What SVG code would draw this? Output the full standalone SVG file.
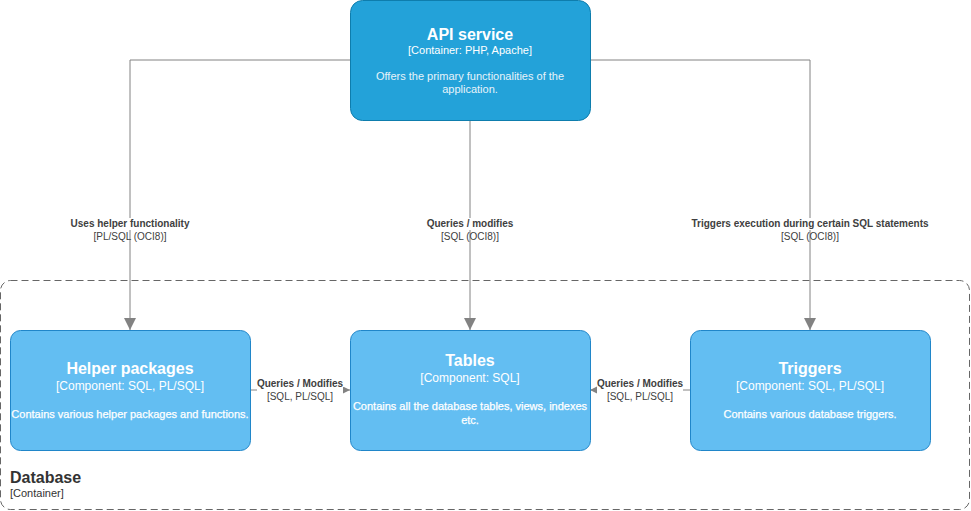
<svg xmlns="http://www.w3.org/2000/svg" width="971" height="511" viewBox="0 0 971 511">
<defs>
<style>
.container{fill:#23A2D9;stroke:#0E7DAD;stroke-width:1}
.comp{fill:#63BEF2;stroke:#2086C9;stroke-width:1}
.title{font-family:"Liberation Sans",Arial,sans-serif;font-size:16px;font-weight:bold;fill:#ffffff;text-anchor:middle}
.sub{font-family:"Liberation Sans",Arial,sans-serif;font-size:12px;fill:#ffffff;text-anchor:middle}
.desc{font-family:"Liberation Sans",Arial,sans-serif;font-size:11px;fill:#ffffff;stroke:#ffffff;stroke-width:0.25;text-anchor:middle}
.desc2{font-family:"Liberation Sans",Arial,sans-serif;font-size:11px;fill:#E6F3FA;text-anchor:middle}
.edge{fill:none;stroke:#828282;stroke-width:1}
.lbl{font-family:"Liberation Sans",Arial,sans-serif;font-size:10px;font-weight:bold;fill:#404040;text-anchor:middle}
.lbl2{font-family:"Liberation Sans",Arial,sans-serif;font-size:10px;fill:#404040;text-anchor:middle}
.lblbg{fill:#ffffff}
</style>
<marker id="arrowBig" markerWidth="12" markerHeight="12" refX="12" refY="6" orient="auto" markerUnits="userSpaceOnUse">
<path d="M0,0 L12,6 L0,12 Z" fill="#828282"/>
</marker>
<marker id="arrowSmall" markerWidth="8" markerHeight="8" refX="7" refY="3.5" orient="auto" markerUnits="userSpaceOnUse">
<path d="M0,0 L7,3.5 L0,7 Z" fill="#828282"/>
</marker>
</defs>
<rect width="971" height="511" fill="#ffffff"/>

<g id="database">
<rect x="0.5" y="280.5" width="969" height="229" rx="10" ry="10" fill="none" stroke="#666666" stroke-width="1" stroke-dasharray="7 4"/>
<text x="10" y="483" font-family="'Liberation Sans',Arial,sans-serif" font-size="16" font-weight="bold" fill="#333333">Database</text>
<text x="10" y="497" font-family="'Liberation Sans',Arial,sans-serif" font-size="11" fill="#333333">[Container]</text>
</g>

<g id="connectors">
<path class="edge" d="M350,60 L130,60 L130,330" marker-end="url(#arrowBig)"/>
<path class="edge" d="M470,120 L470,330" marker-end="url(#arrowBig)"/>
<path class="edge" d="M590,60 L810,60 L810,330" marker-end="url(#arrowBig)"/>
<path class="edge" d="M250,390 L350,390" marker-end="url(#arrowSmall)"/>
<path class="edge" d="M690,390 L590,390" marker-end="url(#arrowSmall)"/>
<rect class="lblbg" x="71" y="218" width="118" height="12"/>
<text class="lbl" x="130" y="227">Uses helper functionality</text>
<text class="lbl2" x="130" y="240">[PL/SQL (OCI8)]</text>
<rect class="lblbg" x="427" y="218" width="86" height="12"/>
<text class="lbl" x="470" y="227">Queries / modifies</text>
<text class="lbl2" x="470" y="240">[SQL (OCI8)]</text>
<rect class="lblbg" x="692" y="218" width="236" height="12"/>
<text class="lbl" x="810" y="227">Triggers execution during certain SQL statements</text>
<text class="lbl2" x="810" y="240">[SQL (OCI8)]</text>
<rect class="lblbg" x="257" y="378" width="86" height="24"/>
<text class="lbl" x="300" y="387">Queries / Modifies</text>
<text class="lbl2" x="300" y="400">[SQL, PL/SQL]</text>
<rect class="lblbg" x="597" y="378" width="86" height="24"/>
<text class="lbl" x="640" y="387">Queries / Modifies</text>
<text class="lbl2" x="640" y="400">[SQL, PL/SQL]</text>
</g>

<g id="api-service">
<rect class="container" x="350.5" y="0.5" width="240" height="120" rx="12" ry="12"/>
<text class="title" x="470" y="40">API service</text>
<text class="sub" x="470" y="54" style="font-size:11px">[Container: PHP, Apache]</text>
<text class="desc2" x="470" y="80">Offers the primary functionalities of the</text>
<text class="desc2" x="470" y="93">application.</text>
</g>

<g id="helper-packages">
<rect class="comp" x="10.5" y="330.5" width="240" height="120" rx="10" ry="10"/>
<text class="title" x="130" y="374">Helper packages</text>
<text class="sub" x="130" y="390">[Component: SQL, PL/SQL]</text>
<text class="desc" x="130" y="418">Contains various helper packages and functions.</text>
</g>

<g id="tables">
<rect class="comp" x="350.5" y="330.5" width="240" height="120" rx="10" ry="10"/>
<text class="title" x="470" y="366">Tables</text>
<text class="sub" x="470" y="382">[Component: SQL]</text>
<text class="desc" x="470" y="410">Contains all the database tables, views, indexes</text>
<text class="desc" x="470" y="424">etc.</text>
</g>

<g id="triggers">
<rect class="comp" x="690.5" y="330.5" width="240" height="120" rx="10" ry="10"/>
<text class="title" x="810" y="374">Triggers</text>
<text class="sub" x="810" y="390">[Component: SQL, PL/SQL]</text>
<text class="desc" x="810" y="418">Contains various database triggers.</text>
</g>
</svg>
